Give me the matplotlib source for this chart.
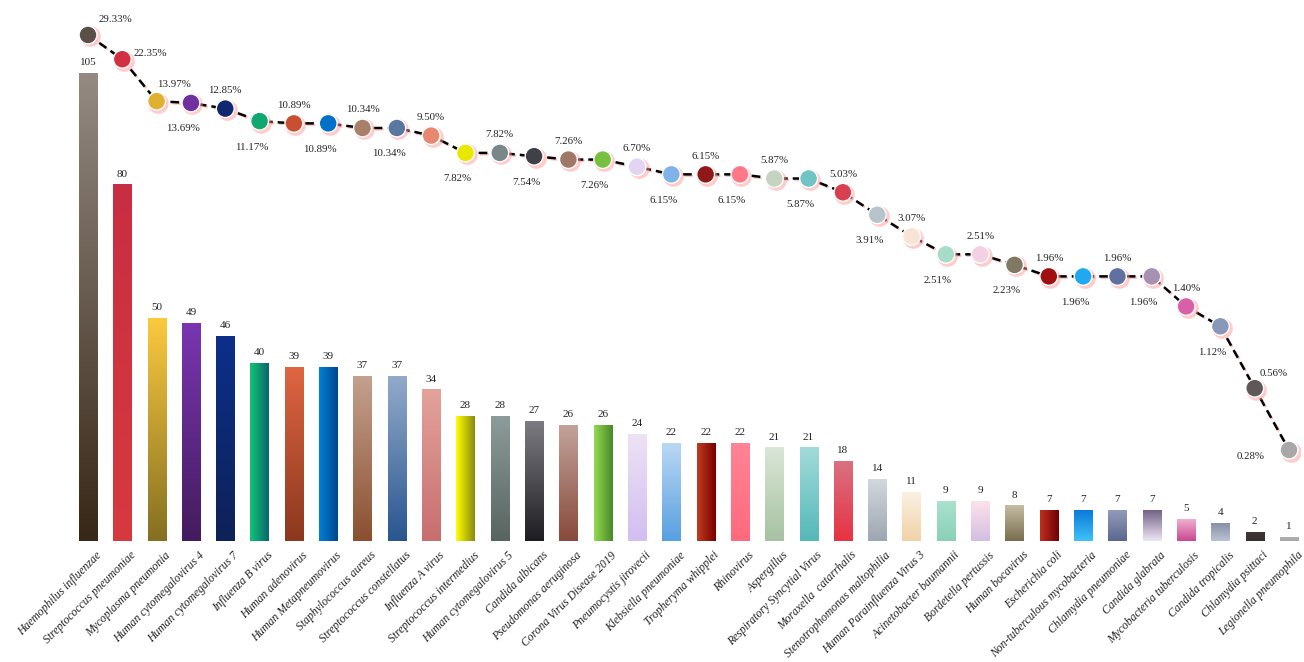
import numpy as np
import matplotlib.pyplot as plt
import matplotlib.patheffects as pe
from matplotlib.colors import LinearSegmentedColormap
from matplotlib.transforms import ScaledTranslation

plt.rcParams['font.family'] = ['Liberation Serif', 'DejaVu Serif']

# pathogens, counts and detection rate (%)
pathogens = ["Haemophilus influenzae", "Streptococcus pneumoniae", "Mycoplasma pneumonia",
             "Human cytomegalovirus 4", "Human cytomegalovirus 7", "Influenza B virus",
             "Human adenovirus", "Human Metapneumovirus", "Staphylococcus aureus",
             "Streptococcus constellatus", "Influenza A virus", "Streptococcus intermedius",
             "Human cytomegalovirus 5", "Candida albicans", "Pseudomonas aeruginosa",
             "Corona Virus Disease 2019", "Pneumocystis jirovecii", "Klebsiella pneumoniae",
             "Tropheryma whipplei", "Rhinovirus", "Aspergillus", "Respiratory Syncytial Virus",
             "Moraxella  catarrhalis", "Stenotrophomonas maltophilia", "Human Parainfluenza Virus 3",
             "Acinetobacter baumannii", "Bordetella pertussis", "Human bocavirus", "Escherichia coli",
             "Non-tuberculous mycobacteria", "Chlamydia pneumoniae", "Candida glabrata",
             "Mycobacteria tuberculosis", "Candida tropicalis", "Chlamydia psittaci",
             "Legionella pneumophila"]
counts = [105, 80, 50, 49, 46, 40, 39, 39, 37, 37, 34, 28, 28, 27, 26, 26, 24, 22, 22, 22,
          21, 21, 18, 14, 11, 9, 9, 8, 7, 7, 7, 7, 5, 4, 2, 1]
percents = [29.33, 22.35, 13.97, 13.69, 12.85, 11.17, 10.89, 10.89, 10.34, 10.34, 9.50, 7.82,
            7.82, 7.54, 7.26, 7.26, 6.70, 6.15, 6.15, 6.15, 5.87, 5.87, 5.03, 3.91, 3.07,
            2.51, 2.51, 2.23, 1.96, 1.96, 1.96, 1.96, 1.40, 1.12, 0.56, 0.28]

# gradient colours of the bars (start, end, direction)
grad_start = ["#948a82", "#c82e42", "#fac93e", "#7a36b2", "#0c2f8a", "#12c474", "#de6642",
              "#0080d8", "#c4a08e", "#92aaca", "#e2a29a", "#ffff00", "#8c9c9a", "#7c7c82",
              "#c2a29a", "#94da52", "#eee2f6", "#bad8f4", "#c03c20", "#ff8496", "#dae6d6",
              "#a2dada", "#d87282", "#d4d8de", "#fcf0e4", "#aae2ce", "#ffe2ea", "#c4bca4",
              "#c03020", "#0878d8", "#949cba", "#6e5e80", "#f2b4d4", "#8890a8", "#3e3632",
              "#b2b2b2"]
grad_end = ["#382818", "#d63a3e", "#857022", "#441c5e", "#0e2256", "#0a6670", "#8c381e",
            "#00468a", "#8a5030", "#2a5690", "#c86e6e", "#8a8a10", "#586460", "#1e1e22",
            "#884a3c", "#488828", "#d2bef0", "#58a0e0", "#780000", "#ff6a7c", "#a6c2a2",
            "#56b8b8", "#e83242", "#9ea6b2", "#f0d2a6", "#8ad0b6", "#d2bee0", "#786e4e",
            "#6e0000", "#40c2f8", "#5a6890", "#eee6f6", "#c84890", "#bac2d2", "#36302c",
            "#a6a6a6"]
grad_dir = ["v", "v", "v", "v", "v", "h", "v", "h", "v", "v", "v", "h", "v", "v", "v", "h",
            "v", "v", "h", "v", "v", "v", "v", "v", "v", "v", "v", "v", "h", "v", "v", "v",
            "v", "v", "v", "v"]
marker_colors = ["#5a5048", "#d03040", "#e0b030", "#7030a0", "#102870", "#10a870", "#c85030",
                 "#0070c8", "#a88068", "#5878a0", "#e88870", "#e8e800", "#788888", "#404048",
                 "#a07868", "#78c040", "#e4d4f4", "#80b4e8", "#901818", "#ff7888", "#c4d4c0",
                 "#70c4c4", "#d84050", "#b8c4cc", "#f8e4d4", "#a8dcc8", "#f4d0e4", "#807860",
                 "#a01010", "#20a8f0", "#6070a0", "#a890b0", "#d860a8", "#8898b8", "#605858",
                 "#a8a8a8"]

x = np.arange(len(pathogens))

fig = plt.figure(figsize=(13.04, 6.62), dpi=100)
ax = fig.add_axes([60 / 1304, 121 / 662, 1240 / 1304, 531 / 662])

bars = ax.bar(x, counts, width=0.53, color="none", edgecolor="none", zorder=2)
for i, b in enumerate(bars):
    cmap = LinearSegmentedColormap.from_list("g%d" % i, [grad_start[i], grad_end[i]])
    if grad_dir[i] == "v":
        img = np.linspace(0, 1, 100).reshape(-1, 1)
    else:
        img = np.linspace(0, 1, 100).reshape(1, -1)
    bx, bw, bh = b.get_x(), b.get_width(), b.get_height()
    im = ax.imshow(img, cmap=cmap, extent=[bx, bx + bw, 0, bh], origin="upper",
                   aspect="auto", zorder=2, interpolation="bilinear")
    im.set_clip_path(b)
    ax.text(b.get_x() + bw / 2, bh + 1.3, str(counts[i]), ha="center", va="bottom",
            fontsize=8, color="#222222")

ax.set_xlim(-0.816, 35.32)
ax.set_ylim(0, 119.1)
ax.set_yticks([])
for s in ax.spines.values():
    s.set_visible(False)
ax.set_xticks(x)
ax.set_xticklabels(pathogens, rotation=45, ha="right", va="center",
                   rotation_mode="anchor", fontsize=8.4, style="italic", color="#222222")
ax.tick_params(axis="x", length=0, pad=9)
shift = ScaledTranslation(12 / 100, 0, fig.dpi_scale_trans)
for lab in ax.get_xticklabels():
    lab.set_transform(lab.get_transform() + shift)

# detection rate line on log scale
ax2 = ax.twinx()
ax2.set_yscale("log")
ax2.set_ylim(0.101, 38.8)
ax2.set_xlim(-0.816, 35.32)
ax2.set_yticks([])
ax2.minorticks_off()
for s in ax2.spines.values():
    s.set_visible(False)

ax2.plot(x, percents, color="black", lw=1.8, linestyle=(0, (3.5, 2)), zorder=3,
         path_effects=[pe.SimpleLineShadow(offset=(1, -1), shadow_color="#ff6060", alpha=0.35),
                       pe.Normal()])
glow = ax2.scatter(x, percents, s=220, color="#ff9a9a", alpha=0.5, zorder=4, linewidths=0)
glow.set_offset_transform(ax2.transData + ScaledTranslation(1.5 / 100, -1.5 / 100,
                                                             fig.dpi_scale_trans))
ax2.scatter(x, percents, s=165, c=marker_colors, edgecolors="white", linewidths=1.0, zorder=5)

for i, p in enumerate(percents):
    if i == 0:
        off = (27, 15)
    elif i == 1:
        off = (28, 6)
    elif i == 2:
        off = (17, 17)
    elif i == 34:
        off = (19, 15)
    elif i == 35:
        off = (-38, -6)
    elif i % 2 == 0:
        off = (0, 18)
    else:
        off = (-8, -26)
    ax2.annotate("%.2f%%" % p, (x[i], p), xytext=off, textcoords="offset pixels",
                 ha="center", va="center", fontsize=7.8, color="#222222", zorder=6)

fig.savefig("out.png", dpi=100)
